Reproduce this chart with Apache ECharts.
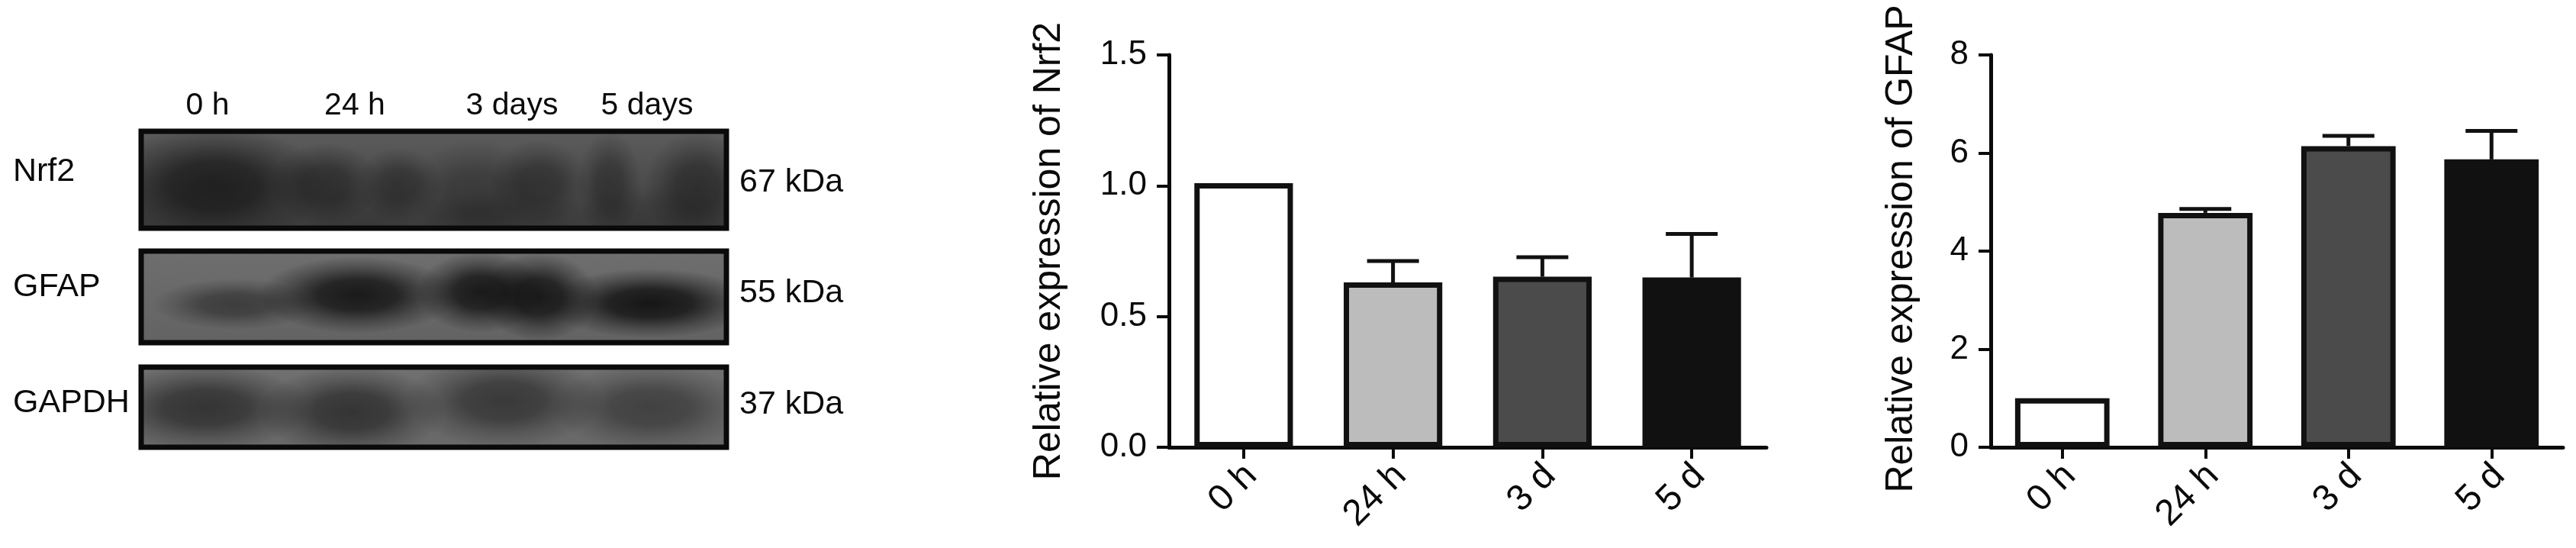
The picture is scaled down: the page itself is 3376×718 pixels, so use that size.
<!DOCTYPE html>
<html>
<head>
<meta charset="utf-8" />
<title>Nrf2 and GFAP expression</title>
<script src="https://cdn.jsdelivr.net/npm/echarts@6/dist/echarts.min.js"></script>
<style>
    html, body { margin: 0; padding: 0; background: #fff; }
    #main { width: 3376px; height: 718px; }
</style>
</head>
<body>
<div id="main"></div>
<script type="text/javascript">
var timeLabels = ["0 h", "24 h", "3 d", "5 d"];
var barColors = ["#ffffff", "#bcbcbc", "#4b4b4b", "#111111"];

var nrf2Values = [1.01, 0.63, 0.652, 0.649];
var nrf2ErrTop = [1.01, 0.712, 0.727, 0.816];

var gfapValues = [1.0, 4.78, 6.14, 5.87];
var gfapErrTop = [1.0, 4.86, 6.35, 6.45];

// blot bands, in percent of the blot: x, y, half width, half height, darkness
var nrf2Bands = [
    [12.5, 56, 19, 62, 0.72], [31.5, 54, 9.5, 42, 0.48], [44, 55, 7.5, 38, 0.42],
    [37, 85, 16, 30, 0.15], [57, 62, 11, 54, 0.28], [68, 53, 8.5, 44, 0.42],
    [62, 88, 16, 26, 0.2], [80, 55, 5.5, 56, 0.4], [95, 58, 9, 58, 0.48],
    [87, 85, 14, 28, 0.15]
];
var gfapBands = [
    [16, 58, 14, 28, 0.48], [37, 48, 17, 42, 0.88], [58, 45, 11, 44, 0.88],
    [68, 50, 10, 48, 0.88], [87, 57, 18, 38, 0.92]
];
var gapdhBands = [
    [11, 50, 18, 54, 0.6], [36, 55, 16, 56, 0.6], [62, 42, 17, 58, 0.55],
    [87, 50, 17, 54, 0.46]
];
var blotBackgrounds = [["#5c5c5c", "#3e3e3e"], ["#6e6e6e", "#636363"], ["#707070", "#686868"]];

var laneLabels = ["0 h", "24 h", "3 days", "5 days"];
var blotNames = ["Nrf2", "GFAP", "GAPDH"];
var blotSizes = ["67 kDa", "55 kDa", "37 kDa"];

var chart = echarts.init(document.getElementById("main"));
var fontName = "Liberation Sans";

function renderBand(params, api) {
    var c = api.coord([api.value(0), api.value(1)]);
    var e = api.coord([api.value(0) + api.value(2), api.value(1) + api.value(3)]);
    var d = api.value(4);
    return {
        type: "circle",
        shape: { cx: 0, cy: 0, r: 1 },
        x: c[0],
        y: c[1],
        scaleX: Math.abs(e[0] - c[0]),
        scaleY: Math.abs(e[1] - c[1]),
        style: {
            fill: {
                type: "radial", x: 0.5, y: 0.5, r: 0.5,
                colorStops: [
                    { offset: 0, color: "rgba(15,15,15," + d + ")" },
                    { offset: 0.4, color: "rgba(15,15,15," + (d * 0.85) + ")" },
                    { offset: 0.72, color: "rgba(15,15,15," + (d * 0.35) + ")" },
                    { offset: 1, color: "rgba(15,15,15,0)" }
                ]
            }
        }
    };
}

function renderFrame(params, api) {
    var a = api.coord([0, 0]);
    var b = api.coord([100, 100]);
    return {
        type: "rect",
        shape: { x: a[0], y: a[1], width: b[0] - a[0], height: b[1] - a[1] },
        style: { fill: "none", stroke: "#0a0a0a", lineWidth: 7 }
    };
}

function renderError(params, api) {
    var x = api.value(0);
    var base = api.coord([x, api.value(1)]);
    var top = api.coord([x, api.value(2)]);
    var lineStyle = { stroke: "#111", lineWidth: 5, fill: "none" };
    return {
        type: "group",
        children: [
            { type: "line", shape: { x1: base[0], y1: base[1], x2: top[0], y2: top[1] }, style: lineStyle },
            { type: "line", shape: { x1: top[0] - 34, y1: top[1], x2: top[0] + 34, y2: top[1] }, style: lineStyle }
        ]
    };
}

var grids = [];
var xAxes = [];
var yAxes = [];
var series = [];
var graphics = [];

function addBlot(bands, top, height, colors) {
    var idx = grids.length;
    grids.push({
        left: 185, width: 767, top: top, height: height, show: true, borderWidth: 0,
        backgroundColor: new echarts.graphic.LinearGradient(0, 0, 0, 1, [
            { offset: 0, color: colors[0] },
            { offset: 1, color: colors[1] }
        ])
    });
    xAxes.push({ gridIndex: idx, type: "value", min: 0, max: 100, show: false });
    yAxes.push({ gridIndex: idx, type: "value", min: 0, max: 100, inverse: true, show: false });
    series.push({
        type: "custom", xAxisIndex: idx, yAxisIndex: idx, clip: true, silent: true,
        renderItem: renderBand, data: bands, animation: false
    });
    series.push({
        type: "custom", xAxisIndex: idx, yAxisIndex: idx, clip: false, silent: true, z: 5,
        renderItem: renderFrame, data: [[0]], animation: false
    });
}

function addPlot(left, width, title, titleGap, titleShift, maxVal, step, values, errTop, tickFormat) {
    var idx = grids.length;
    grids.push({ left: left, width: width, top: 72, height: 514, show: false });
    xAxes.push({
        gridIndex: idx, type: "category", data: timeLabels,
        axisLine: { show: true, onZero: false, lineStyle: { color: "#0a0a0a", width: 5 } },
        axisTick: { show: true, alignWithLabel: true, length: 15, lineStyle: { color: "#0a0a0a", width: 4 } },
        axisLabel: { interval: 0, rotate: 45, margin: 20, verticalAlign: "top", lineHeight: 28, color: "#0a0a0a", fontFamily: fontName, fontSize: 48, hideOverlap: false },
        splitLine: { show: false }
    });
    yAxes.push({
        gridIndex: idx, type: "value", min: 0, max: maxVal, interval: step,
        name: title, nameLocation: "middle", nameRotate: 90, nameGap: titleGap,
        nameTextStyle: { color: "#0a0a0a", fontFamily: fontName, fontSize: 50, padding: [0, 0, 0, titleShift] },
        axisLine: { show: true, lineStyle: { color: "#0a0a0a", width: 5 } },
        axisTick: { show: true, length: 16, lineStyle: { color: "#0a0a0a", width: 4 } },
        axisLabel: { margin: 29, color: "#0a0a0a", fontFamily: fontName, fontSize: 44, formatter: tickFormat },
        splitLine: { show: false }
    });
    var errData = [];
    for (var i = 1; i < values.length; i++) {
        errData.push([i, values[i], errTop[i]]);
    }
    series.push({
        type: "custom", xAxisIndex: idx, yAxisIndex: idx, clip: false, z: 1,
        renderItem: renderError, data: errData, animation: false
    });
    series.push({
        type: "bar", xAxisIndex: idx, yAxisIndex: idx, barWidth: "66%", z: 2, animation: false,
        data: values.map(function (v, i) {
            return { value: v, itemStyle: { color: barColors[i], borderColor: "#111", borderWidth: 7 } };
        })
    });
}

addBlot(nrf2Bands, 172, 127, blotBackgrounds[0]);
addBlot(gfapBands, 329, 120, blotBackgrounds[1]);
addBlot(gapdhBands, 481, 105, blotBackgrounds[2]);

addPlot(1532, 783, "Relative expression of Nrf2", 132, 0, 1.5, 0.5, nrf2Values, nrf2ErrTop, function (v) { return v.toFixed(1); });
addPlot(2609, 750, "Relative expression of GFAP", 92, 6, 8, 2, gfapValues, gfapErrTop, function (v) { return String(v); });

function addText(str, x, y, align, size) {
    graphics.push({
        type: "text", x: x, y: y,
        style: { text: str, fill: "#0a0a0a", font: size + "px " + fontName, textAlign: align, textVerticalAlign: "middle" }
    });
}

var laneX = [272, 465, 671, 848];
laneLabels.forEach(function (s, i) { addText(s, laneX[i], 139, "center", 41); });
var nameY = [225, 376, 528];
blotNames.forEach(function (s, i) { addText(s, 17, nameY[i], "left", 43); });
var sizeY = [239, 384, 530];
blotSizes.forEach(function (s, i) { addText(s, 969, sizeY[i], "left", 43); });

chart.setOption({
    backgroundColor: "#ffffff",
    animation: false,
    grid: grids,
    xAxis: xAxes,
    yAxis: yAxes,
    series: series,
    graphic: graphics
});
</script>
</body>
</html>
